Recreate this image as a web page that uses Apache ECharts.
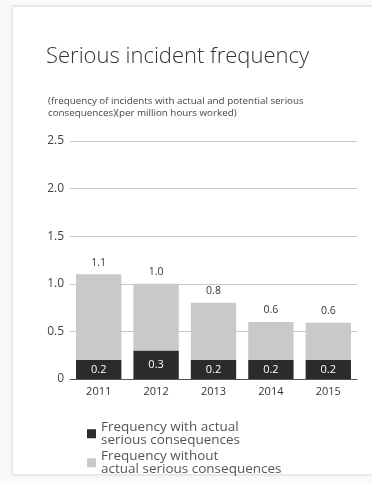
<!DOCTYPE html>
<html><head><meta charset="utf-8">
<script src="https://cdn.jsdelivr.net/npm/echarts@6/dist/echarts.min.js"></script>
<style>
html,body{margin:0;padding:0;background:#fff;}
#wrap{position:relative;width:372px;height:483px;overflow:hidden;background:#fafafa;}
#card{position:absolute;left:13px;top:7px;width:380px;height:467px;background:#fff;box-shadow:0 0 3px 1px #d8d8d8;}
#chart{position:absolute;left:0;top:0;width:372px;height:483px;}
</style></head>
<body><div id="wrap"><div id="card"></div><div id="chart"></div></div>
<script>
const categories = ['2011','2012','2013','2014','2015'];
const withActual = [0.2, 0.3, 0.2, 0.2, 0.2];
const withoutActual = [0.9, 0.7, 0.6, 0.4, 0.39];
const totalLabels = ['1.1','1.0','0.8','0.6','0.6'];
const seriesNames = ['Frequency with actual\nserious consequences', 'Frequency without\nactual serious consequences'];
const yTicks = [0, 0.5, 1.0, 1.5, 2.0, 2.5];

const chart = echarts.init(document.getElementById('chart'), null, {renderer:'canvas'});
const font = '"Open Sans", "DejaVu Sans", sans-serif';
const legendBase = {
  orient: 'vertical', left: 87,
  itemWidth: 9, itemHeight: 9, itemGap: 6, padding: 0,
  icon: 'rect',
  textStyle: {fontFamily: font, fontSize: 13.5, color: '#555', lineHeight: 13.5}
};
chart.setOption({
  backgroundColor: 'transparent',
  animation: false,
  textStyle: {fontFamily: font},
  title: [{
    text: 'Serious incident frequency',
    left: 41, top: 41,
    textStyle: {fontFamily: font, fontSize: 22, fontWeight: 300, color: '#333'}
  },{
    text: '(frequency of incidents with actual and potential serious\nconsequences)(per million hours worked)',
    left: 43, top: 90,
    textStyle: {fontFamily: font, fontSize: 9.8, fontWeight: 'normal', color: '#444', lineHeight: 12}
  }],
  legend: [
    Object.assign({}, legendBase, {top: 420, data: [seriesNames[0]]}),
    Object.assign({}, legendBase, {top: 449, data: [seriesNames[1]]})
  ],
  grid: {left: 70, right: 15, top: 141, bottom: 104},
  xAxis: {
    type: 'category', data: categories,
    axisLine: {show: true, lineStyle: {color: '#555', width: 1}},
    axisTick: {show: false},
    axisLabel: {color: '#333', fontSize: 11, margin: 7, fontFamily: font}
  },
  yAxis: {
    type: 'value', min: 0, max: 2.5, interval: 0.5,
    axisLine: {show: false}, axisTick: {show: false},
    axisLabel: {color: '#444', fontSize: 12, margin: 6, fontFamily: font,
      formatter: v => v === 0 ? '0' : v.toFixed(1)},
    splitLine: {show: true, lineStyle: {color: '#c8c8c8', width: 1}}
  },
  series: [{
    name: seriesNames[0], type: 'bar', stack: 'a', data: withActual,
    barWidth: '79%',
    itemStyle: {color: '#2b2b2b'},
    label: {show: true, position: 'inside', color: '#fff', fontSize: 11, fontFamily: font,
      formatter: p => p.value.toFixed(1)}
  },{
    name: seriesNames[1], type: 'bar', stack: 'a', data: withoutActual,
    barWidth: '79%',
    itemStyle: {color: '#c9c9c9'},
    label: {show: true, position: 'top', color: '#333', fontSize: 10.5, distance: 6, fontFamily: font,
      formatter: p => totalLabels[p.dataIndex]}
  }]
});
</script></body></html>
